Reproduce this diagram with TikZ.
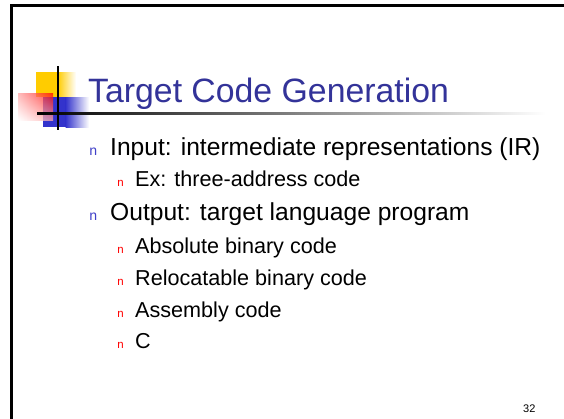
\documentclass[tikz,border=0pt]{standalone}
\usepackage{fontspec}
\usetikzlibrary{shadings}
\setmainfont{Liberation Sans}
\newfontfamily\markfont{Liberation Mono}
\definecolor{titleblue}{RGB}{51,51,153}
\definecolor{markblue}{RGB}{64,64,200}
\definecolor{logoyellow}{RGB}{255,204,0}
\definecolor{logoblue}{RGB}{51,51,204}
\begin{document}
\begin{tikzpicture}[x=1pt,y=-1pt,
  maintext/.style={anchor=base west,inner sep=0pt,font=\fontsize{24.6}{26}\selectfont},
  subtext/.style={anchor=base west,inner sep=0pt,font=\fontsize{21.6}{24}\selectfont},
  mainmark/.style={anchor=base west,inner sep=0pt,text=markblue,font=\markfont\fontsize{14}{14}\selectfont},
  submark/.style={anchor=base west,inner sep=0pt,text=red,font=\markfont\fontsize{11.5}{12}\selectfont}]
\useasboundingbox (0,0) rectangle (564,418);
\fill[white] (-6,-6) rectangle (570,424);
% frame
\draw[line width=2.4pt] (11.5,424) -- (11.5,5.5) -- (570,5.5);
% logo
\fill[logoyellow] (36,72) rectangle (58,97);
\shade[left color=logoyellow,right color=white] (57.5,72) rectangle (76,97);
\fill[logoblue] (43,97) rectangle (66,127);
\shade[left color=logoblue,right color=white] (65.5,97) rectangle (89,127);
\shade[fill opacity=0.75,upper right=red,upper left=red!35,lower right=red!35,lower left=white] (18,93) rectangle (53,120);
\shade[left color=black,right color=white] (37,112) rectangle (545,114.2);
\draw[line width=2pt] (58,66) -- (58,130);
% title
\node[anchor=base west,inner sep=0pt,text=titleblue,font=\fontsize{33.8}{36}\selectfont] (title) at (88,102) {Target Code Generation};
% bullets
\node[mainmark] (m1) at (89,155.5) {n};
\node[maintext] (t1) at (110,155.5) {Input: intermediate representations (IR)};
\node[submark] (m2) at (117,186.5) {n};
\node[subtext] (t2) at (135,186.5) {Ex: three-address code};
\node[mainmark] (m3) at (89,220) {n};
\node[maintext] (t3) at (110,220) {Output: target language program};
\node[submark] (m4) at (117,253) {n};
\node[subtext] (t4) at (135,253) {Absolute binary code};
\node[submark] (m5) at (117,285) {n};
\node[subtext] (t5) at (135,285) {Relocatable binary code};
\node[submark] (m6) at (117,317) {n};
\node[subtext] (t6) at (135,317) {Assembly code};
\node[submark] (m7) at (117,348) {n};
\node[subtext] (t7) at (135,348) {C};
\node[anchor=base west,inner sep=0pt,font=\fontsize{11}{12}\selectfont] (page) at (523,412) {32};
\end{tikzpicture}
\end{document}
